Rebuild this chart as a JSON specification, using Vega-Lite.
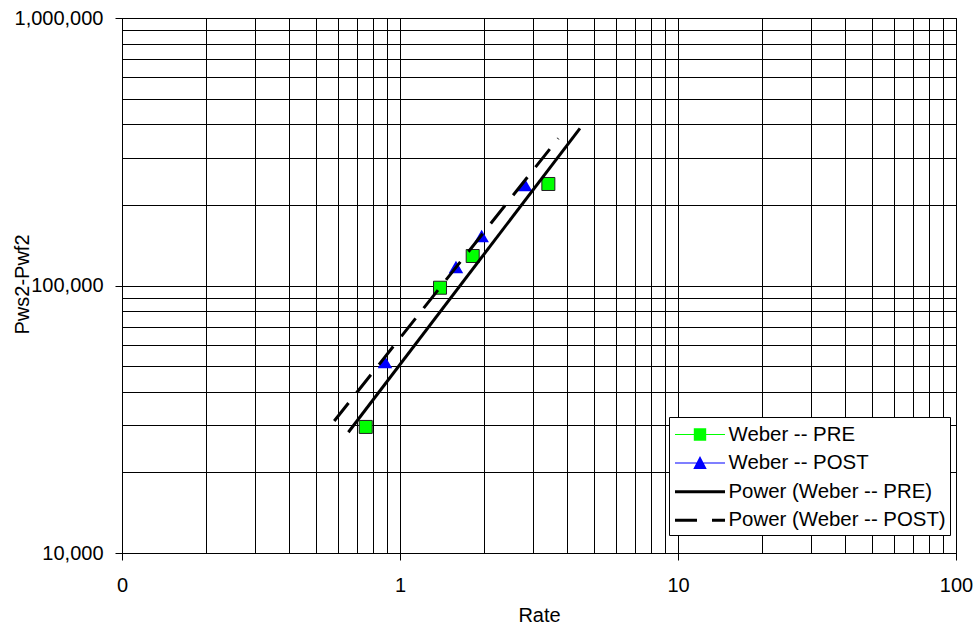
{
  "$schema": "https://vega.github.io/schema/vega-lite/v6.json",
  "width": 834,
  "height": 535,
  "autosize": {"type": "none"},
  "padding": {"left": 122, "top": 18, "right": 20, "bottom": 71},
  "background": "white",
  "config": {
    "view": {"stroke": "#000000", "strokeWidth": 1},
    "font": "Liberation Sans",
    "axis": {
      "labelFont": "Liberation Sans",
      "labelFontSize": 20,
      "labelColor": "#000000",
      "titleFont": "Liberation Sans",
      "titleFontSize": 20,
      "titleFontWeight": "normal",
      "titleColor": "#000000",
      "domainColor": "#000000",
      "domainWidth": 1,
      "tickColor": "#000000",
      "tickWidth": 1,
      "tickSize": 7,
      "gridColor": "#000000",
      "gridOpacity": 1,
      "gridWidth": 1,
      "labelOverlap": false,
      "labelBound": false,
      "labelFlush": false
    },
    "legend": {
      "title": null,
      "orient": "none",
      "legendX": 547,
      "legendY": 399,
      "padding": 3.5,
      "fillColor": "#ffffff",
      "strokeColor": "#000000",
      "symbolSize": 784,
      "symbolOffset": 13.5,
      "symbolOpacity": 1,
      "symbolStrokeWidth": 0,
      "labelOffset": 14.5,
      "rowPadding": 3.6,
      "labelFont": "Liberation Sans",
      "labelFontSize": 20.4,
      "labelColor": "#000000",
      "labelLimit": 400
    }
  },
  "data": {
    "values": [
      {"series": "Weber -- PRE", "rate": 0.753, "dp": 29600},
      {"series": "Weber -- PRE", "rate": 1.393, "dp": 98100},
      {"series": "Weber -- PRE", "rate": 1.826, "dp": 128900},
      {"series": "Weber -- PRE", "rate": 3.417, "dp": 239600},
      {"series": "Weber -- POST", "rate": 0.883, "dp": 51800},
      {"series": "Weber -- POST", "rate": 1.59, "dp": 117300},
      {"series": "Weber -- POST", "rate": 1.967, "dp": 153100},
      {"series": "Weber -- POST", "rate": 2.817, "dp": 237500},
      {"series": "Power (Weber -- PRE)", "rate": 0.652, "dp": 28270},
      {"series": "Power (Weber -- PRE)", "rate": 4.44, "dp": 387000},
      {"series": "Power (Weber -- POST)", "rate": 0.58, "dp": 31150},
      {"series": "Power (Weber -- POST)", "rate": 3.71, "dp": 355000}
    ]
  },
  "encoding": {
    "x": {
      "field": "rate",
      "type": "quantitative",
      "title": "Rate",
      "scale": {"type": "log", "domain": [0.1, 100], "nice": false},
      "axis": {
        "values": [0.1, 0.2, 0.3, 0.4, 0.5, 0.6, 0.7, 0.8, 0.9, 1, 2, 3, 4, 5, 6, 7, 8, 9, 10, 20, 30, 40, 50, 60, 70, 80, 90, 100],
        "labelExpr": "datum.value < 0.15 ? '0' : (indexof([1, 10, 100], datum.value) >= 0 ? format(datum.value, 'd') : '')",
        "tickOpacity": {"condition": {"test": "indexof([0.1, 1, 10, 100], datum.value) >= 0", "value": 1}, "value": 0},
        "labelPadding": 15,
        "titleY": 68,
        "titleBaseline": "alphabetic"
      }
    },
    "y": {
      "field": "dp",
      "type": "quantitative",
      "title": "Pws2-Pwf2",
      "scale": {"type": "log", "domain": [10000, 1000000], "nice": false},
      "axis": {
        "values": [10000, 20000, 30000, 40000, 50000, 60000, 70000, 80000, 90000, 100000, 200000, 300000, 400000, 500000, 600000, 700000, 800000, 900000, 1000000],
        "labelExpr": "indexof([10000, 100000, 1000000], datum.value) >= 0 ? format(datum.value, ',d') : ''",
        "tickOpacity": {"condition": {"test": "indexof([10000, 100000, 1000000], datum.value) >= 0", "value": 1}, "value": 0},
        "labelPadding": 12,
        "titleAngle": 270,
        "titleX": -94,
        "titleY": 266,
        "titleAlign": "center",
        "titleBaseline": "alphabetic"
      }
    }
  },
  "layer": [
    {
      "transform": [{"filter": "datum.series === 'Weber -- PRE'"}],
      "mark": {"type": "point", "shape": "square", "filled": true, "size": 169, "color": "#00ff00", "stroke": "#222222", "strokeWidth": 1, "opacity": 1}
    },
    {
      "transform": [{"filter": "datum.series === 'Weber -- POST'"}],
      "mark": {"type": "point", "shape": "triangle-up", "filled": true, "size": 210, "color": "#0000ff", "opacity": 1}
    },
    {
      "transform": [{"filter": "datum.series === 'Power (Weber -- PRE)'"}],
      "mark": {"type": "line", "strokeWidth": 3, "color": "#000000"},
      "encoding": {}
    },
    {
      "transform": [{"filter": "datum.series === 'Power (Weber -- POST)'"}],
      "mark": {"type": "line", "strokeWidth": 3, "strokeDash": [23, 13], "color": "#000000"},
      "encoding": {}
    },
    {
      "mark": {"type": "point", "filled": true, "size": 0, "strokeWidth": 0, "opacity": 1},
      "encoding": {
        "color": {
          "field": "series",
          "type": "nominal",
          "scale": {
            "domain": ["Weber -- PRE", "Weber -- POST", "Power (Weber -- PRE)", "Power (Weber -- POST)"],
            "range": ["#00ff00", "#0000ff", "#000000", "#000000"]
          },
          "legend": {"title": null, "orient": "none", "legendX": 547, "legendY": 399}
        },
        "shape": {
          "field": "series",
          "type": "nominal",
          "scale": {
            "domain": ["Weber -- PRE", "Weber -- POST", "Power (Weber -- PRE)", "Power (Weber -- POST)"],
            "range": [
              "M-1.786,-0.036H1.786V0.036H-1.786ZM-0.443,-0.443H0.443V0.443H-0.443Z",
              "M-1.786,-0.036H1.786V0.036H-1.786ZM0,-0.5L0.48,0.43H-0.48Z",
              "M-1.786,-0.107H1.786V0.107H-1.786Z",
              "M-1.786,-0.107H-0.214V0.107H-1.786ZM0.857,-0.107H1.786V0.107H0.857Z"
            ]
          },
          "legend": {"title": null, "orient": "none", "legendX": 547, "legendY": 399}
        }
      }
    }
  ]
}
